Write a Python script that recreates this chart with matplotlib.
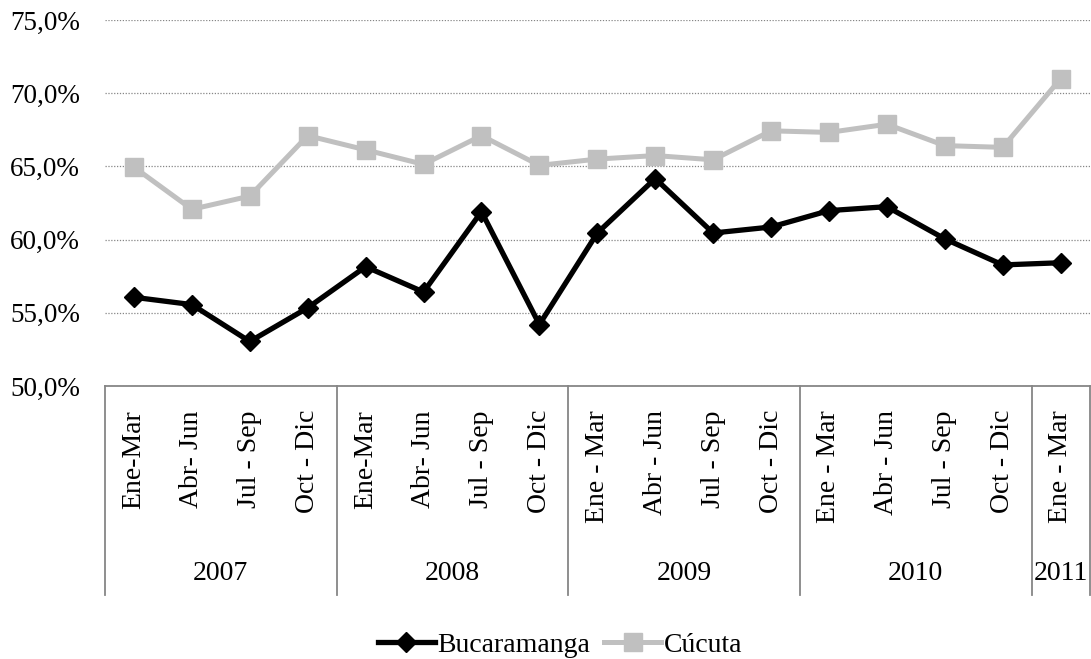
import matplotlib
matplotlib.use("Agg")
import matplotlib.pyplot as plt
from matplotlib.lines import Line2D
from matplotlib.transforms import blended_transform_factory
from matplotlib.ticker import FuncFormatter

plt.rcParams['font.family'] = ['Liberation Serif', 'DejaVu Serif']

quarters = ["Ene-Mar", "Abr- Jun", "Jul - Sep", "Oct - Dic",
            "Ene-Mar", "Abr- Jun", "Jul - Sep", "Oct - Dic",
            "Ene - Mar", "Abr - Jun", "Jul - Sep", "Oct - Dic",
            "Ene - Mar", "Abr - Jun", "Jul - Sep", "Oct - Dic",
            "Ene - Mar"]
years = ["2007", "2008", "2009", "2010", "2011"]
year_counts = [4, 4, 4, 4, 1]

bucaramanga = [56.06, 55.56, 53.04, 55.34, 58.15, 56.42, 61.91, 54.2,
               60.45, 64.17, 60.45, 60.86, 61.98, 62.25, 60.05, 58.27, 58.42]
cucuta = [64.95, 62.07, 62.97, 67.1, 66.13, 65.14, 67.1, 65.07,
          65.5, 65.74, 65.45, 67.43, 67.32, 67.88, 66.42, 66.3, 70.99]

W, H = 1091, 659
fig = plt.figure(figsize=(W / 100, H / 100), dpi=100)
ax = fig.add_axes([105 / W, 1 - 386 / H, 984.6 / W, 366 / H])

x = list(range(len(quarters)))
ax.plot(x, cucuta, color='#C0C0C0', lw=3.6, marker='s', ms=13.5,
        mfc='#C0C0C0', mec='#C0C0C0', label='Cúcuta', zorder=3)
ax.plot(x, bucaramanga, color='black', lw=3.8, marker='D', ms=10.5,
        mfc='black', mec='black', label='Bucaramanga', zorder=4)

ax.set_xlim(-0.5, len(quarters) - 0.5)
ax.set_ylim(50, 75)
ax.set_yticks([50, 55, 60, 65, 70, 75])
ax.yaxis.set_major_formatter(FuncFormatter(lambda v, p: f"{v:.1f}%".replace('.', ',')))
ax.tick_params(axis='y', length=0, pad=18, labelsize=19.5)
ax.set_xticks([])
ax.grid(axis='y', color='#868686', lw=0.9, linestyle=(0, (1, 1.3)))
ax.set_axisbelow(True)
for s in ['left', 'right', 'top']:
    ax.spines[s].set_visible(False)
ax.spines['bottom'].set_color('#868686')
ax.spines['bottom'].set_linewidth(1.3)

tr = blended_transform_factory(ax.transData, fig.transFigure)
# category labels
for i, q in enumerate(quarters):
    ax.text(i, 1 - 410 / H, q, transform=tr, rotation=90, ha='center', va='top',
            fontsize=20, clip_on=False)

# group separators and year labels
start = 0
bounds = [-0.5]
for y, n in zip(years, year_counts):
    ax.text(start + (n - 1) / 2, 1 - 573 / H, y, transform=tr, ha='center', va='center',
            fontsize=20, clip_on=False)
    start += n
    bounds.append(start - 0.5)
for b in bounds:
    ax.add_line(Line2D([b, b], [1 - 386 / H, 1 - 595 / H], transform=tr, color='#868686',
                       lw=1.3, clip_on=False))

handles = [Line2D([], [], color='black', lw=3.8, marker='D', ms=10.5),
           Line2D([], [], color='#C0C0C0', lw=3.6, marker='s', ms=13.5)]
fig.legend(handles, ['Bucaramanga', 'Cúcuta'], loc='center', ncol=2,
           bbox_to_anchor=(560 / W, 1 - 645 / H), frameon=False, fontsize=20,
           handlelength=2.05, handletextpad=0.1, columnspacing=0.5, borderpad=0)

fig.savefig('out.png', dpi=100)
